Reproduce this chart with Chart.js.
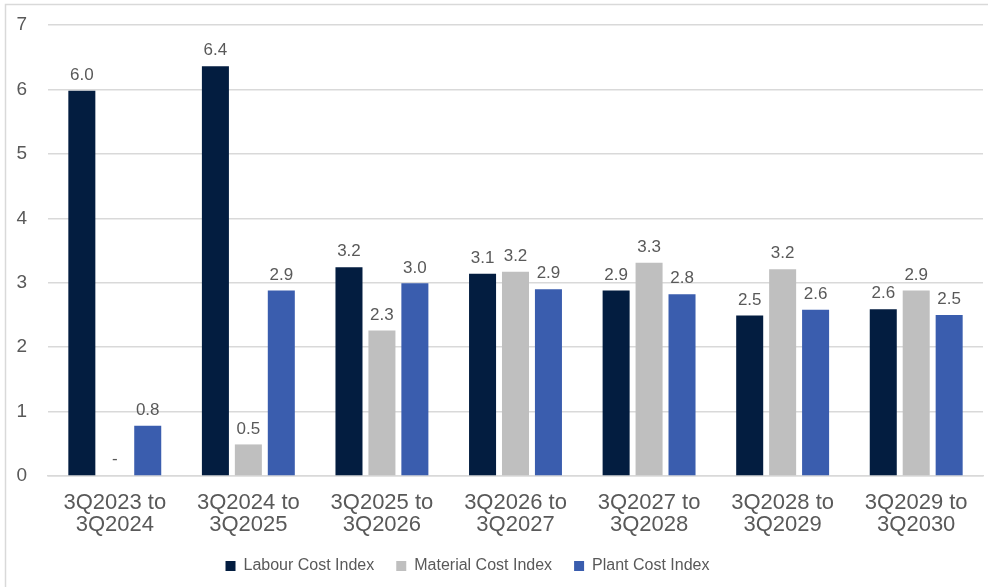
<!DOCTYPE html>
<html>
<head>
<meta charset="utf-8">
<script src="https://cdn.jsdelivr.net/npm/chart.js@4/dist/chart.umd.min.js"></script>
<style>
  html, body { margin: 0; padding: 0; background: #ffffff; }
  #wrap { position: relative; width: 988px; height: 587px; }
</style>
</head>
<body>
<div id="wrap"><canvas id="c" width="988" height="587"></canvas></div>
<script>
// Forecast cost index change per period (%)
const periods = [
  ['3Q2023 to', '3Q2024'],
  ['3Q2024 to', '3Q2025'],
  ['3Q2025 to', '3Q2026'],
  ['3Q2026 to', '3Q2027'],
  ['3Q2027 to', '3Q2028'],
  ['3Q2028 to', '3Q2029'],
  ['3Q2029 to', '3Q2030']
];
const labourIndex   = [5.98, 6.36, 3.24, 3.14, 2.88, 2.49, 2.59];
const materialIndex = [0,    0.49, 2.26, 3.17, 3.31, 3.21, 2.88];
const plantIndex    = [0.78, 2.88, 2.99, 2.90, 2.82, 2.58, 2.50];
const yTicks = [0, 1, 2, 3, 4, 5, 6, 7];

const TEXT = '#595959';
const FONT = "'Liberation Sans', Arial, sans-serif";
const LEGEND_SPACE = 35;   // vertical room reserved for the legend row
const LEGEND_TOP = 536;    // where the legend row is placed

// Thin frame along the top and left edges of the canvas
const framePlugin = {
  id: 'frame',
  beforeDraw(chart) {
    const ctx = chart.ctx;
    ctx.save();
    ctx.strokeStyle = '#d9d9d9';
    ctx.lineWidth = 1.5;
    ctx.beginPath();
    ctx.moveTo(5.5, 587);
    ctx.lineTo(5.5, 4.5);
    ctx.lineTo(988, 4.5);
    ctx.stroke();
    ctx.restore();
  }
};

// Legend: fixed reserved height, placed below the axis labels, slightly left of centre
const legendPlace = {
  id: 'legendPlace',
  beforeLayout(chart) {
    const lg = chart.legend;
    if (lg && !lg._fitWrapped) {
      const fit = lg.fit.bind(lg);
      lg.fit = function () { fit(); this.height = LEGEND_SPACE; };
      lg._fitWrapped = true;
    }
  },
  afterLayout(chart) {
    const lg = chart.legend;
    if (!lg) return;
    lg.left -= 24; lg.right -= 24;
    lg.top = LEGEND_TOP; lg.bottom = 587;
  }
};

// Value labels above each bar; zero values show a dash
const valueLabels = {
  id: 'valueLabels',
  afterDatasetsDraw(chart) {
    const ctx = chart.ctx;
    ctx.save();
    ctx.fillStyle = TEXT;
    ctx.font = '17px ' + FONT;
    ctx.textAlign = 'center';
    ctx.textBaseline = 'bottom';
    chart.data.datasets.forEach((ds, di) => {
      const meta = chart.getDatasetMeta(di);
      meta.data.forEach((bar, i) => {
        const v = ds.data[i];
        const txt = v === 0 ? '-' : v.toFixed(1);
        const yOff = v === 0 ? 8 : 7;
        ctx.fillText(txt, bar.x, bar.y - yOff);
      });
    });
    ctx.restore();
  }
};

new Chart(document.getElementById('c'), {
  type: 'bar',
  data: {
    labels: periods,
    datasets: [
      { label: 'Labour Cost Index',   data: labourIndex,   backgroundColor: '#031d40' },
      { label: 'Material Cost Index', data: materialIndex, backgroundColor: '#bfbfbf' },
      { label: 'Plant Cost Index',    data: plantIndex,    backgroundColor: '#3a5dae' }
    ]
  },
  options: {
    responsive: false,
    animation: false,
    devicePixelRatio: 1,
    layout: { padding: { left: 0, right: 5, top: 25, bottom: 0 } },
    datasets: {
      bar: { categoryPercentage: 0.74, barPercentage: 0.82 }
    },
    plugins: {
      tooltip: { enabled: false },
      legend: {
        position: 'bottom',
        labels: {
          color: TEXT,
          font: { family: FONT, size: 16 },
          boxWidth: 10,
          boxHeight: 10,
          padding: 22
        }
      }
    },
    scales: {
      x: {
        grid: { display: false, drawTicks: false },
        border: { display: true, color: '#d9d9d9', width: 1.5 },
        ticks: {
          color: TEXT,
          font: { family: FONT, size: 22, lineHeight: 1.0 },
          padding: 16,
          maxRotation: 0,
          autoSkip: false
        }
      },
      y: {
        min: 0,
        max: 7,
        afterFit(scale) {
          scale.width = 48;
          scale.paddingTop = 0;
          scale.paddingBottom = 0;
        },
        afterBuildTicks(scale) { scale.ticks = yTicks.map(v => ({ value: v })); },
        grid: { color: '#d9d9d9', lineWidth: 1.5, drawTicks: false },
        border: { display: false },
        ticks: {
          color: TEXT,
          font: { family: FONT, size: 19 },
          padding: 21,
          stepSize: 1
        }
      }
    }
  },
  plugins: [framePlugin, legendPlace, valueLabels]
});
</script>
</body>
</html>
